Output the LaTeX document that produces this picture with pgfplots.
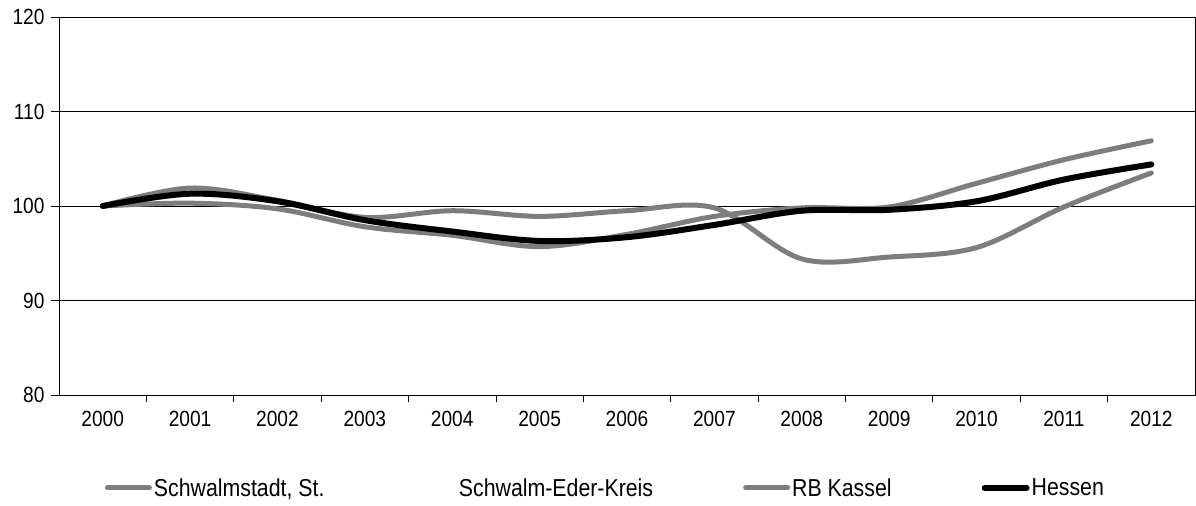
\documentclass[border=0pt]{standalone}
\usepackage{pgfplots}
\pgfplotsset{compat=1.18}
\usepackage{fontspec}
\setmainfont{Liberation Sans}[FakeStretch=0.87]
\definecolor{lgray}{RGB}{125,125,125}
\begin{document}
\begin{tikzpicture}
\useasboundingbox (0,0) rectangle (1196bp,506bp);
\begin{axis}[
  at={(59bp,111bp)}, anchor=south west,
  scale only axis, width=1136bp, height=378bp,
  xmin=-0.5, xmax=12.5, ymin=80, ymax=120,
  xtick={0,...,12},
  xticklabels={2000,2001,2002,2003,2004,2005,2006,2007,2008,2009,2010,2011,2012},
  minor xtick={0.5,1.5,...,11.5},
  ytick={80,90,...,120},
  xtick pos=bottom, ytick pos=left,
  ymajorgrids, grid style={black, line width=0.8bp},
  every major x tick/.append style={draw=none},
  tick align=outside, major tick length=8bp, minor tick length=7bp,
  tick style={black, line width=0.8bp},
  axis line style={black, line width=0.9bp},
  /pgf/number format/assume math mode=true,
  ticklabel style={font=\fontsize{22bp}{26bp}\selectfont},
  xticklabel style={yshift=-5bp},
  yticklabel style={xshift=-3bp},
  legend style={draw=none, at={(0.481,-0.246)}, anchor=center,
    font=\fontsize{24.5bp}{28bp}\selectfont, inner sep=0pt,
    nodes={inner xsep=2bp},
    /tikz/every even column/.append style={column sep=88bp}},
  legend columns=4,
  legend cell align=left,
  legend image code/.code={\draw[#1] (0bp,0bp) -- (42bp,0bp);},
]
\addplot[lgray, line width=5bp, smooth, tension=0.55, line cap=round] coordinates {
(0,100) (1,101.9) (2,100.6) (3,98.8) (4,99.5) (5,98.9) (6,99.5) (7,99.8) (8,94.4) (9,94.6) (10,95.6) (11,99.9) (12,103.5)};
\addlegendentry{Schwalmstadt, St.}
\addlegendimage{white, draw opacity=0}
\addlegendentry{Schwalm-Eder-Kreis}
\addplot[lgray, line width=5bp, smooth, tension=0.55, line cap=round] coordinates {
(0,100) (1,100.3) (2,99.7) (3,97.8) (4,96.9) (5,95.7) (6,97.0) (7,98.9) (8,99.8) (9,99.9) (10,102.4) (11,104.9) (12,106.9)};
\addlegendentry{RB Kassel}
\addplot[black, line width=6bp, smooth, tension=0.55, line cap=round] coordinates {
(0,100) (1,101.3) (2,100.5) (3,98.5) (4,97.3) (5,96.3) (6,96.7) (7,98.0) (8,99.5) (9,99.6) (10,100.5) (11,102.8) (12,104.4)};
\addlegendentry{Hessen}
\end{axis}
\end{tikzpicture}
\end{document}
